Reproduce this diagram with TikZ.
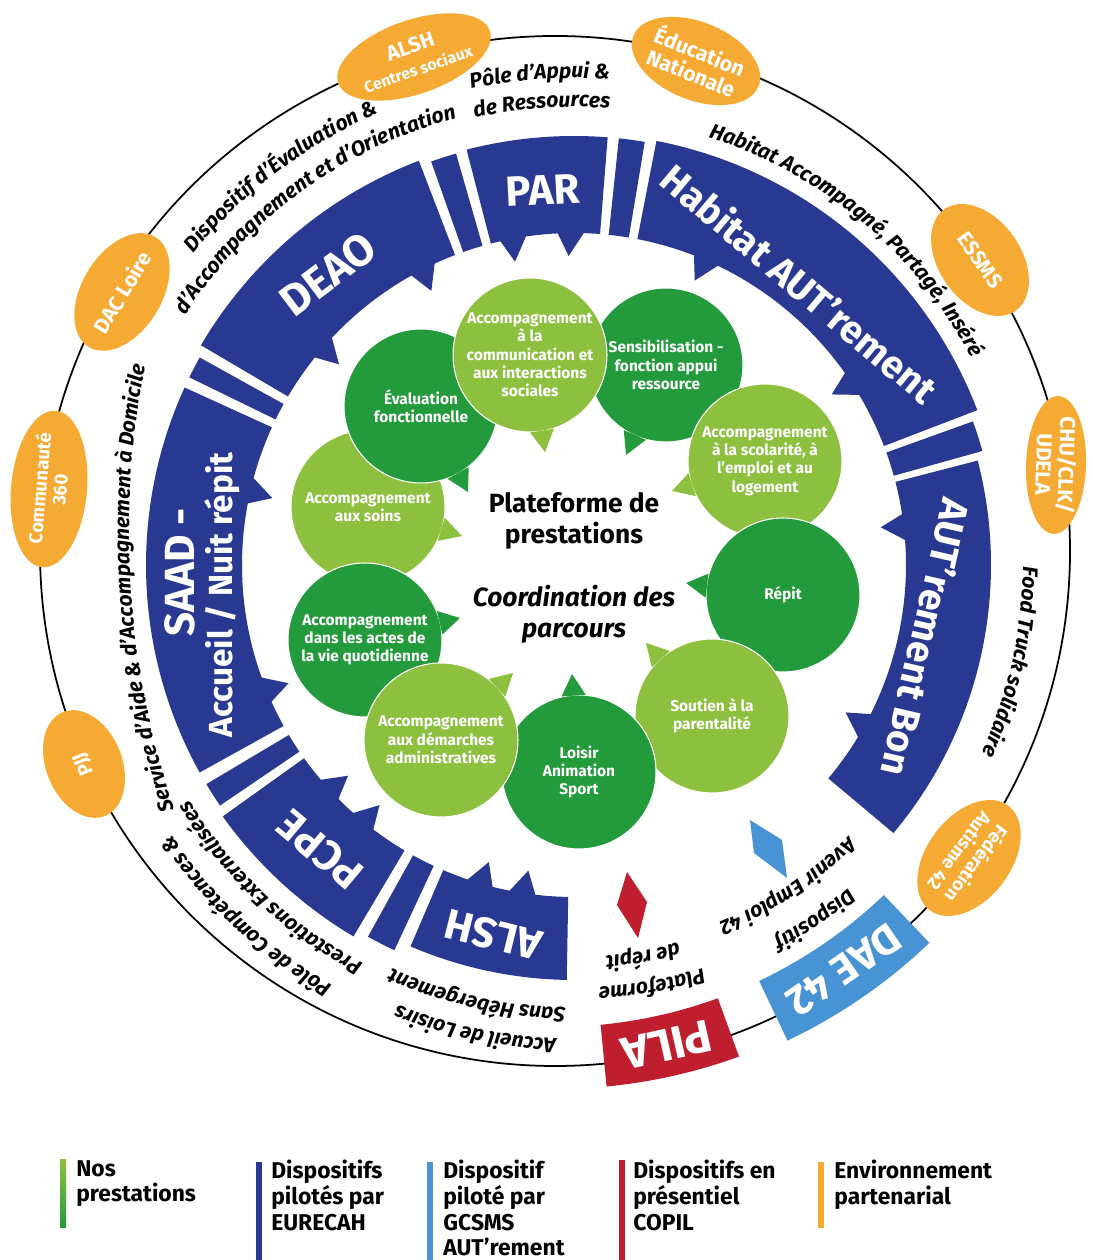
\documentclass[tikz,border=0pt]{standalone}
\usepackage{fontspec}
\setmainfont{Fira Sans}
\usetikzlibrary{shapes.geometric,decorations.text}

\definecolor{bandblue}{RGB}{41,56,145}
\definecolor{daeblue}{RGB}{72,147,211}
\definecolor{pilared}{RGB}{190,30,45}
\definecolor{darkgreen}{RGB}{35,155,60}
\definecolor{lightgreen}{RGB}{142,192,64}
\definecolor{partnerorange}{RGB}{245,170,52}

\newcommand{\arcfont}{\fontsize{12}{14}\selectfont\bfseries\itshape}

\begin{document}
\begin{tikzpicture}[x=0.02cm,y=0.02cm,
    bubble/.style={circle,minimum size=3.08cm,inner sep=0pt,draw=white,line width=0.6pt,
      text=white,align=center,font=\fontsize{8.8}{10.4}\selectfont\bfseries},
    darkbubble/.style={bubble,fill=darkgreen},
    lightbubble/.style={bubble,fill=lightgreen},
    partner/.style={ellipse,fill=partnerorange,text=white,align=center,inner sep=0pt,
      font=\fontsize{12}{13}\selectfont\bfseries},
    bandlabel/.style={text=white,inner sep=0pt,align=center,
      font=\fontsize{24}{27}\selectfont\bfseries},
    arctext/.style={decorate,decoration={text along path,text align=center}},
    legendtext/.style={anchor=north west,align=left,inner sep=0pt,
      font=\fontsize{13}{14.6}\selectfont\bfseries}]

\useasboundingbox (0,0) rectangle (1092,1260);

% thin outer ring
\draw[line width=1pt] (555,709) circle[radius=515];

% partners on the ring
\node[partner,rotate=19,minimum width=2.56cm,minimum height=1.48cm] (alshcs) at (414,1203)
  {ALSH\\{\fontsize{9}{10}\selectfont Centres sociaux}};
\node[partner,rotate=-22,minimum width=2.56cm,minimum height=1.56cm] (educ) at (696,1199)
  {Éducation\\Nationale};
\node[partner,rotate=-55,minimum width=2.48cm,minimum height=1.64cm] (essms) at (980,1000) {ESSMS};
\node[partner,rotate=-92,minimum width=2.64cm,minimum height=1.2cm] (chu) at (1056,795)
  {CHU/CLK/\\UDELA};
\node[partner,rotate=-127,minimum width=2.56cm,minimum height=1.68cm,
  font=\fontsize{10.5}{12}\selectfont\bfseries] (fede) at (969,402) {Fédération\\Autisme 42};
\node[partner,rotate=112,minimum width=2.24cm,minimum height=1.52cm,
  font=\fontsize{11}{12}\selectfont\bfseries] (pjj) at (84,496) {PJJ};
\node[partner,rotate=85,minimum width=2.6cm,minimum height=1.52cm,
  font=\fontsize{10.5}{11.5}\selectfont\bfseries] (commu) at (49,771) {Communauté\\360};
\node[partner,rotate=59,minimum width=2.48cm,minimum height=1.6cm] (dac) at (122,968) {DAC Loire};

% PILA and DAE 42 sit on the ring
\begin{scope}[shift={(555,709)}]
  \fill[pilared] (275.5:476) arc[start angle=275.5,end angle=290,radius=476]
    -- (290:538) arc[start angle=290,end angle=275.5,radius=538] -- cycle;
  \fill[daeblue] (295.4:476) arc[start angle=295.4,end angle=313.7,radius=476]
    -- (313.7:542) arc[start angle=313.7,end angle=295.4,radius=542] -- cycle;
\end{scope}
\node[bandlabel,rotate=192.8,font=\fontsize{26}{28}\selectfont\bfseries] (pila) at (667,215) {PILA};
\node[bandlabel,rotate=214.6] (dae) at (844,290) {DAE 42};

% blue band of the dispositifs
\begin{scope}[shift={(574,695)}]
  \foreach \a/\b/\ro in {85.5/104.5/429, 106/109.5/428, 111/149.5/433, 151/154/428,
      155.5/209/428, 210.8/214.2/428, 215.6/239.3/432, 241/245/425, 246.8/269/415,
      80.5/84/429, 21/79/432, 15.6/19.8/424, -40/14.5/417}
    \fill[bandblue] (\a:332) arc[start angle=\a,end angle=\b,radius=332]
      -- (\b:\ro) arc[start angle=\b,end angle=\a,radius=\ro] -- cycle;
  % tails of the band
  \foreach \a in {117,139,100.5,90.5,66.5,33,6.5,-29,167,202,222.5,230.5,253.5,261}
    \fill[bandblue] (\a-2.6:336) -- (\a+2.6:336) -- (\a+0.5:309) -- cycle;

  % texts around the band
  \path[arctext,decoration={text={|\arcfont|Dispositif d’Évaluation {\&}}}]
    (162:492) arc[start angle=162,end angle=92,radius=492];
  \path[arctext,decoration={text={|\arcfont|d’Accompagnement et d’Orientation}}]
    (166:462) arc[start angle=166,end angle=86,radius=462];
  \path[arctext,decoration={text={|\arcfont|Pôle d’Appui {\&}}}]
    (114:487) arc[start angle=114,end angle=74,radius=487];
  \path[arctext,decoration={text={|\arcfont|de Ressources}}]
    (114:458) arc[start angle=114,end angle=74,radius=458];
  \path[arctext,decoration={text={|\arcfont|Habitat Accompagné, Partagé, Inséré}}]
    (95:448) arc[start angle=95,end angle=5,radius=448];
  \path[arctext,decoration={text={|\arcfont|Food Truck solidaire}}]
    (20:449) arc[start angle=20,end angle=-45,radius=449];
  \path[arctext,decoration={text={|\arcfont|Pôle de Compétences {\&}}}]
    (260:485) arc[start angle=260,end angle=194,radius=485];
  \path[arctext,decoration={text={|\arcfont|Prestations Externalisées}}]
    (260:451) arc[start angle=260,end angle=193.6,radius=451];
  \path[arctext,decoration={text={|\arcfont|Accueil de Loisirs}}]
    (285:474) arc[start angle=285,end angle=231,radius=474];
  \path[arctext,decoration={text={|\arcfont|Sans Hébergement}}]
    (285:443) arc[start angle=285,end angle=229.6,radius=443];
  \path[arctext,decoration={text={|\arcfont|Plateforme}}]
    (300:423) arc[start angle=300,end angle=261,radius=423];
  \path[arctext,decoration={text={|\arcfont|de répit}}]
    (300:392) arc[start angle=300,end angle=260,radius=392];
  \path[arctext,decoration={text={|\arcfont|Dispositif}}]
    (325:424) arc[start angle=325,end angle=283.4,radius=424];
  \path[arctext,decoration={text={|\arcfont|Avenir Emploi 42}}]
    (330:386) arc[start angle=330,end angle=277.2,radius=386];
\end{scope}
% the left text runs on a flatter arc
\path[arctext,decoration={text={|\arcfont|Service d’Aide {\&} d’Accompagnement à Domicile}}]
  (992,727.5) ++(205.8:863) arc[start angle=205.8,end angle=161.8,radius=863];

\node[bandlabel,rotate=37,font=\fontsize{25}{27}\selectfont\bfseries] (deao) at (328,986) {DEAO};
\node[bandlabel,rotate=3] (par) at (543,1070) {PAR};
\node[bandlabel,rotate=-40,font=\fontsize{22}{26}\selectfont\bfseries] (habitat) at (800,977)
  {Habitat AUT’rement};
\node[bandlabel,rotate=-103,font=\fontsize{22}{25}\selectfont\bfseries] (autbon) at (926,622)
  {AUT’rement Bon};
\node[bandlabel,rotate=90] (saad) at (180,688) {SAAD -};
\node[bandlabel,rotate=90,font=\fontsize{19}{22}\selectfont\bfseries] (accueil) at (222,665)
  {Accueil / Nuit répit};
\node[bandlabel,rotate=140] (pcpe) at (320,410) {PCPE};
\node[bandlabel,rotate=166] (alsh) at (493,325) {ALSH};

% the two single dispositifs
\fill[pilared] (627,388) -- (647,358) -- (638,322) -- (617,355) -- cycle;
\fill[daeblue] (750,440) -- (782,420) -- (787,382) -- (754,407) -- cycle;

% ring of prestations
\node[lightbubble] (soins) at (368,753) {Accompagnement\\aux soins};
\fill[lightgreen] (soins.334) -- (462,724) -- (soins.352) -- cycle;
\node[darkbubble] (actes) at (365,620) {Accompagnement\\dans les actes de\\la vie quotidienne};
\fill[darkgreen] (actes.4) -- (460,642) -- (actes.22) -- cycle;
\node[darkbubble] (sensib) at (666,895) {Sensibilisation -\\fonction appui\\ressource};
\fill[darkgreen] (sensib.237) -- (626,805) -- (sensib.255) -- cycle;
\node[lightbubble] (scol) at (765,799) {Accompagnement\\à la scolarité, à\\l'emploi et au\\logement};
\fill[lightgreen] (scol.189) -- (672,769) -- (scol.207) -- cycle;
\node[darkbubble] (repit) at (783,665) {Répit};
\fill[darkgreen] (repit.164) -- (686,677) -- (repit.182) -- cycle;
\node[lightbubble] (soutien) at (712,544) {Soutien à la\\parentalité};
\fill[lightgreen] (soutien.123) -- (646,617) -- (soutien.141) -- cycle;
\node[darkbubble] (loisir) at (579,488) {Loisir\\Animation\\Sport};
\fill[darkgreen] (loisir.85) -- (572,586) -- (loisir.103) -- cycle;
\node[lightbubble] (demarches) at (441,520) {Accompagnement\\aux démarches\\administratives};
\fill[lightgreen] (demarches.34) -- (513,587) -- (demarches.52) -- cycle;
\node[darkbubble] (eval) at (421,854) {Évaluation\\fonctionnelle};
\fill[darkgreen] (eval.290) -- (468,768) -- (eval.308) -- cycle;
\node[lightbubble] (comm) at (530,905) {Accompagnement\\à la\\communication et\\aux interactions\\sociales};
\fill[lightgreen] (comm.270) -- (545,808) -- (comm.288) -- cycle;

\node[align=center,font=\fontsize{15}{17.6}\selectfont\bfseries] (plateforme) at (574,739)
  {Plateforme de\\prestations};
\node[align=center,font=\fontsize{15}{17.6}\selectfont\bfseries\itshape] (coordination) at (574,646)
  {Coordination des\\parcours};

% legend
\shade[top color=lightgreen,bottom color=darkgreen] (60,32) rectangle (66,100);
\fill[bandblue] (256,0) rectangle (262,98);
\fill[daeblue] (427,0) rectangle (433,98);
\fill[pilared] (619,0) rectangle (625,100);
\fill[partnerorange] (818,32) rectangle (824,98);
\node[legendtext] (lgreen) at (76,100) {Nos\\prestations};
\node[legendtext] (lblue) at (271,100) {Dispositifs\\pilotés par\\EURECAH};
\node[legendtext] (llight) at (443,100) {Dispositif\\piloté par\\GCSMS\\AUT’rement};
\node[legendtext] (lred) at (633,100) {Dispositifs en\\présentiel\\COPIL};
\node[legendtext] (lorange) at (834,100) {Environnement\\partenarial};
\end{tikzpicture}
\end{document}
